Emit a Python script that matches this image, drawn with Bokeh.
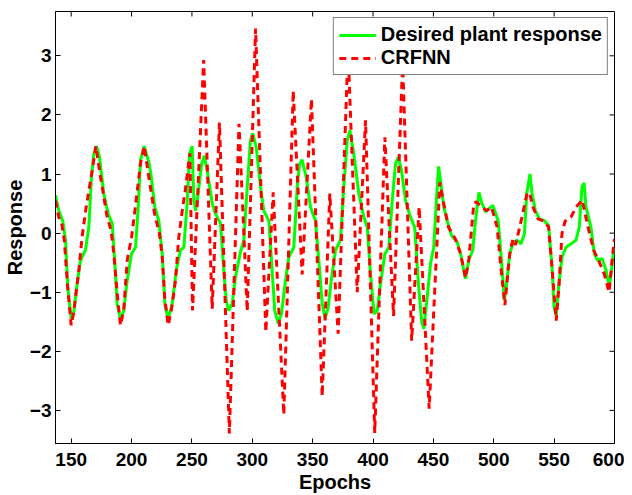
import math
from bokeh.plotting import figure
from bokeh.models import Range1d, FixedTicker
from bokeh.embed import file_html
from bokeh.resources import INLINE

# ---- data ----
epochs_desired = [137, 139.7, 143, 145.3, 147.2, 150, 152, 155, 157.7, 161.8, 164.6, 166.8, 168.7, 171,
                  173.4, 177, 180.6, 184, 186, 188, 190.8, 193.6, 196.4, 200, 203.3, 205.5, 207.4, 210.5,
                  214.3, 216, 219.3, 222.6, 225.4, 227.5, 230.3, 233.7, 237, 240.5, 243.3, 246, 248, 250.2,
                  251.6, 253, 255.2, 258, 260.2, 262.6, 266.8, 269.5, 273.7, 276.4, 278.4, 280.5, 283.4,
                  286, 290.2, 293, 295.8, 298.5, 300.4, 303.2, 306.8, 309.5, 313.7, 315.9, 318.6, 321.5,
                  324.2, 327.5, 330.2, 334.4, 337.2, 339.1, 341.3, 344.6, 348.2, 352.3, 355.1, 357.9, 360.3,
                  362.9, 365.4, 368.9, 373, 375.8, 378.6, 380.8, 384.1, 388.2, 392.4, 395.2, 397.9, 400.9,
                  403.5, 406.2, 409.8, 413.1, 415.9, 418.6, 420.9, 423.6, 426.9, 431, 434.5, 437.6, 440.2,
                  442, 444.9, 447.6, 450.3, 452.3, 454.3, 455.9, 458.6, 461.4, 465, 469.7, 472.5, 476.6,
                  479.3, 482.6, 484.9, 487.7, 489.9, 493.2, 495.9, 499.2, 503.7, 506.4, 508.8, 510.3, 513.3,
                  516, 519.1, 522.6, 525.4, 527.3, 530, 531.7, 534.5, 537.8, 541.9, 545.4, 548.3, 549.9,
                  551.7, 553.7, 556.5, 559.8, 564, 568.1, 570.8, 573.1, 574.8, 576.4, 580.5, 583.3, 586,
                  589.7, 593, 595.7, 597.1, 599, 600]
desired = [0.64, 0.38, 0.21, -0.12, -0.91, -1.45, -1.36, -0.85, -0.46, -0.29, 0.10, 0.95, 1.34, 1.47,
           1.29, 0.67, 0.33, 0.16, -0.46, -1.19, -1.46, -1.31, -0.80, -0.35, -0.24, 0.44, 1.23, 1.47,
           1.20, 1.00, 0.44, 0.21, -0.35, -1.19, -1.46, -1.19, -0.63, -0.29, -0.24, 0.50, 1.34, 1.47,
           0.55, 0.38, 0.67, 1.17, 1.31, 1.06, 0.50, 0.33, 0.16, -0.63, -1.14, -1.31, -1.19,
           -0.75, -0.32, -0.12, 0.78, 1.57, 1.69, 1.46, 0.78, 0.38, 0.21, -0.46, -1.31, -1.53,
           -1.36, -0.80, -0.41, -0.24, 0.78, 1.17, 1.24, 0.95, 0.44, 0.21, -0.46, -1.19, -1.45,
           -1.25, -0.80, -0.29, -0.12, 0.78, 1.57, 1.74, 1.34, 0.67, 0.27, 0.10, -0.69, -1.37,
           -1.31, -0.86, -0.35, -0.24, 0.55, 1.17, 1.29, 1.06, 0.55, 0.27, 0.10, -0.85, -1.48,
           -1.62, -1.08, -0.52, -0.24, 0.50, 1.13, 0.89, 0.44, 0.21, -0.04, -0.15, -0.35, -0.77,
           -0.46, -0.29, 0.21, 0.69, 0.52, 0.36, 0.41, 0.47, 0.21, -0.46, -1.14, -0.91, -0.35,
           -0.16, -0.12, -0.18, -0.01, 0.67, 1.00, 0.67, 0.38, 0.24, 0.21, 0.13, -0.58, -1.25,
           -1.39, -0.91, -0.41, -0.24, -0.18, -0.12, 0.10, 0.78, 0.85, 0.44, 0.10, -0.35, -0.46,
           -0.43, -0.63, -0.91, -0.69, -0.35, -0.25]

epochs_crfnn = [137, 139.7, 142, 144.3, 147, 150, 152, 156.3, 159, 162.4, 167.4, 170.4, 174.3, 179.8,
                183, 185.3, 188, 190.8, 193.5, 196.4, 200, 203.3, 207.4, 210.5, 214.3, 219.3, 223, 225.4,
                227.5, 230.3, 233, 236.4, 239.1, 242, 245, 248.3, 250.5, 259.7, 266.8, 272.8, 281, 289,
                295.8, 302.7, 311.2, 317.3, 326.1, 333.9, 341.3, 349, 357.9, 364.2, 371.1, 379.3, 386.9,
                393.8, 401.4, 409.8, 417, 424.5, 432, 438.2, 446.5, 455.3, 458.6, 462.5, 468, 472.5, 476.6,
                479.3, 483.5, 485.5, 490.4, 494, 498.1, 502.8, 506, 509.2, 512, 513.5, 516, 518, 521.5,
                524.2, 527.7, 530, 532.5, 536.6, 541.9, 545.4, 548.3, 551.7, 554, 556.5, 559, 564, 568.1,
                571.6, 573.3, 575.1, 579.3, 583, 586.8, 591.5, 595.5, 598.5, 600]
crfnn = [0.55, 0.27, 0.18, -0.12, -0.90, -1.56, -1.35, -0.63, -0.07, 0.44, 1.06, 1.47, 0.95, 0.27,
         0.05, -0.35, -1.00, -1.56, -1.30, -0.46, -0.07, 0.47, 1.18, 1.47, 0.95, 0.30, 0.00, -0.40,
         -1.10, -1.56, -1.30, -0.80, -0.07, 0.38, 0.80, 1.35, -1.31, 2.93, -1.28, 1.87, -3.39, 1.85,
         -1.32, 3.46, -1.67, 0.69, -3.07, 2.41, -0.70, 2.27, -2.76, 0.67, -1.70, 3.10, -1.00,
         1.91, -3.38, 1.62, -1.40, 2.90, -1.82, 0.44, -2.97, 0.86, 0.50, 0.10, -0.09, -0.35, -0.76,
         -0.45, 0.50, 0.53, 0.44, 0.38, 0.44, 0.10, -0.60, -1.22, -0.60, -0.30, -0.10, -0.20, 0.10,
         0.35, 0.69, 0.65, 0.44, 0.24, 0.20, 0.10, -0.60, -1.48, -0.90, -0.01, 0.20, 0.27, 0.44,
         0.52, 0.56, 0.38, -0.01, -0.30, -0.46, -0.69, -1.00, -0.35, -0.10]

x_ticks = [150, 200, 250, 300, 350, 400, 450, 500, 550, 600]
y_ticks = [-3, -2, -1, 0, 1, 2, 3]

X_MIN, X_MAX = 137, 600
Y_MIN, Y_MAX = -3.56, 3.75
FONT = "Liberation Sans"

p = figure(width=624, height=495, output_backend="svg", toolbar_location=None,
           x_range=Range1d(X_MIN, X_MAX), y_range=Range1d(Y_MIN, Y_MAX),
           min_border_left=40, min_border_right=10, min_border_top=11, min_border_bottom=40,
           background_fill_color="white", border_fill_color="white")
p.grid.visible = False
p.outline_line_color = "black"
p.outline_line_width = 1

p.line(epochs_desired, desired, line_color="#00ff00", line_width=3,
       legend_label="Desired plant response")
p.line(epochs_crfnn, crfnn, line_color="#ff0000", line_width=3, line_dash="7 5",
       legend_label="CRFNN")

# inward ticks on the top and right edges of the box (half of each dash is clipped by the frame)
p.scatter(x_ticks, [Y_MAX] * len(x_ticks), marker="dash", size=10, angle=math.pi / 2,
          line_color="black", line_width=1)
p.scatter([X_MAX] * len(y_ticks), y_ticks, marker="dash", size=10,
          line_color="black", line_width=1)

xa = p.xaxis[0]
ya = p.yaxis[0]
xa.ticker = FixedTicker(ticks=x_ticks)
ya.ticker = FixedTicker(ticks=y_ticks)
xa.axis_label = "Epochs"
ya.axis_label = "Response"
for ax in (xa, ya):
    ax.major_tick_in = 5
    ax.major_tick_out = 0
    ax.minor_tick_line_color = None
    ax.axis_line_color = "black"
    ax.major_tick_line_color = "black"
    ax.major_label_text_font = FONT
    ax.major_label_text_font_style = "bold"
    ax.major_label_text_font_size = "19px"
    ax.major_label_text_color = "black"
    ax.axis_label_text_font = FONT
    ax.axis_label_text_font_style = "bold"
    ax.axis_label_text_font_size = "20px"
    ax.axis_label_text_color = "black"
xa.major_label_standoff = 9
xa.axis_label_standoff = 2
ya.major_label_standoff = 4
ya.axis_label_standoff = 1

lg = p.legend[0]
lg.location = "top_right"
lg.margin = 6
lg.padding = 5
lg.spacing = 0
lg.glyph_width = 37
lg.glyph_height = 20
lg.label_height = 20
lg.label_standoff = 5
lg.label_text_font = FONT
lg.label_text_font_style = "bold"
lg.label_text_font_size = "20px"
lg.label_text_color = "black"
lg.border_line_color = "black"
lg.border_line_width = 1.5
lg.background_fill_color = "white"
lg.background_fill_alpha = 1.0

open("out.html", "w").write(file_html(p, INLINE))
